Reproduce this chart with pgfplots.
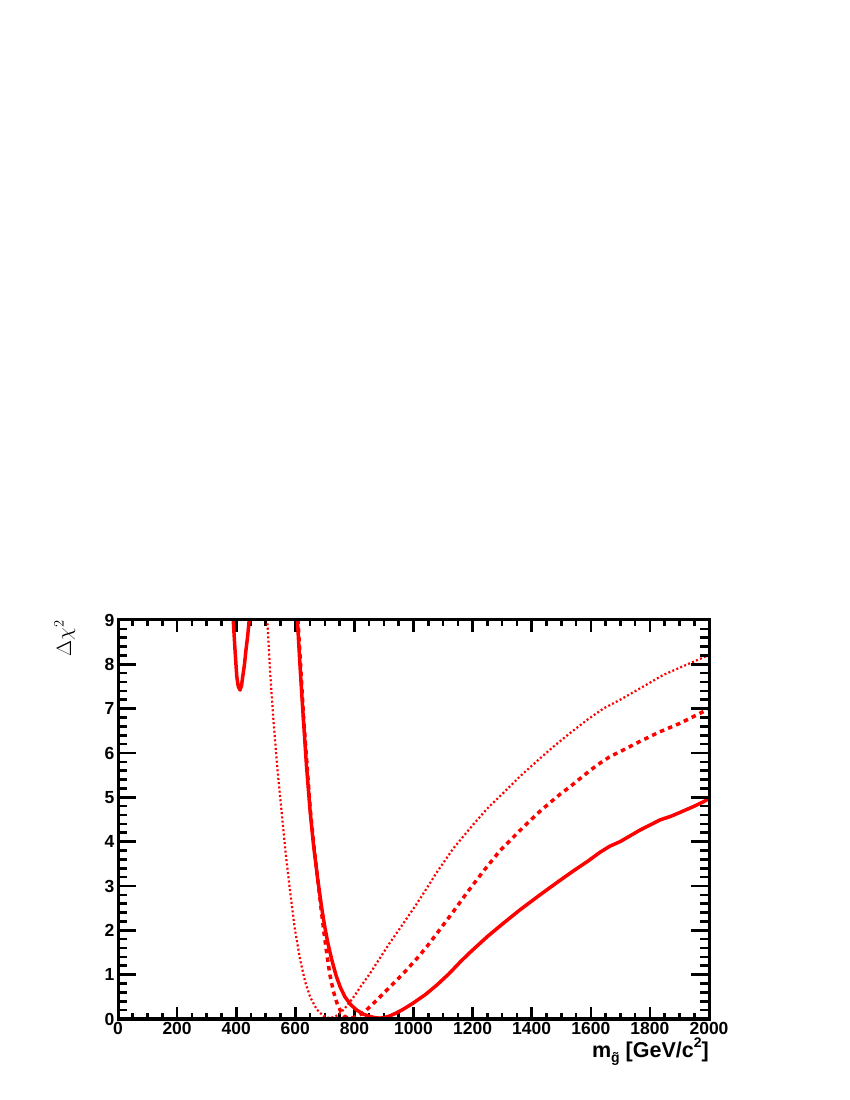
\documentclass[border=0pt]{standalone}
\usepackage{amsmath}
\usepackage{fontspec}
\setmainfont{Liberation Sans}
\usepackage{pgfplots}
\usepackage{pgfplotstable}
\pgfplotsset{compat=1.18}

% solid curve, small dip near 410
\pgfplotstableread{
x y
386 9.6
390 9.0
396 8.32
402 7.72
407 7.5
413 7.42
418 7.52
422 7.72
428 8.0
433 8.32
439 8.65
444 9.0
447 9.6
}\solidlow

% solid curve, main
\pgfplotstableread{
x y
602 9.6
607 9.0
617 7.85
627 6.8
638 5.7
650 4.7
662 3.9
675 3.2
689 2.52
700 2.07
710 1.72
724 1.32
738 0.98
752 0.72
768 0.5
788 0.32
808 0.2
830 0.11
850 0.06
870 0.03
885 0.02
900 0.03
920 0.07
940 0.13
960 0.2
980 0.28
999 0.36
1040 0.55
1078 0.76
1120 1.02
1160 1.3
1191 1.5
1250 1.86
1304 2.16
1360 2.46
1428 2.8
1490 3.1
1541 3.34
1590 3.56
1631 3.76
1665 3.9
1699 4.0
1766 4.26
1834 4.49
1870 4.57
1902 4.66
1950 4.8
1981 4.9
2000 4.97
}\solidmain

\pgfplotstableread{
x y
605 9.6
609 9.0
619 7.85
628 6.8
640 5.7
651 4.7
663 3.9
675 3.2
687 2.5
697 1.95
707 1.45
717 1.0
729 0.62
741 0.36
753 0.18
765 0.07
778 0.02
790 0.02
805 0.05
820 0.1
837 0.18
853 0.28
881 0.46
905 0.62
932 0.80
970 1.06
1011 1.36
1045 1.63
1078 1.92
1130 2.38
1180 2.84
1236 3.33
1293 3.8
1360 4.25
1417 4.62
1462 4.88
1496 5.07
1530 5.24
1563 5.42
1600 5.62
1631 5.77
1665 5.92
1699 6.03
1766 6.26
1834 6.48
1902 6.67
1950 6.83
1986 6.95
2000 7.0
}\dashed

\pgfplotstableread{
x y
500 9.6
505 9.0
515 7.8
526 6.74
540 5.6
554 4.65
568 3.7
582 2.9
598 2.05
616 1.35
633 0.85
650 0.5
672 0.22
695 0.07
715 0.02
735 0.05
755 0.15
775 0.3
800 0.52
820 0.72
853 1.03
887 1.38
920 1.72
965 2.15
1011 2.6
1045 2.95
1078 3.3
1135 3.85
1200 4.37
1250 4.75
1304 5.1
1360 5.47
1420 5.83
1473 6.14
1530 6.45
1586 6.74
1642 7.0
1699 7.2
1770 7.47
1845 7.76
1920 7.98
1986 8.17
2000 8.2
}\dotted

\begin{document}
\begin{tikzpicture}
\path[use as bounding box] (0,0) rectangle (850pt,1100pt);
\pgfplotsset{rootframe/.style={
  width=591pt, height=399pt, scale only axis,
  at={(118pt,81pt)}, anchor=south west,
  xmin=0, xmax=2000, ymin=0, ymax=9,
  axis line style={line width=3pt},
  tick style={line width=2.6pt, black},
  tick align=inside,
  ticklabel style={font=\fontsize{17.5}{20}\selectfont\bfseries},
  /pgf/number format/assume math mode=true,
  /pgf/number format/1000 sep={},
}}
% x ticks and curves
\begin{axis}[rootframe,
  xtick={0,200,...,2000}, minor x tick num=3,
  major tick length=12pt, minor tick length=6pt,
  ytick=\empty,
  xlabel={m\raisebox{-0.45ex}{\fontsize{14}{14}\selectfont\ooalign{g\cr\hidewidth ˜\hidewidth\cr}} [GeV/c\raisebox{0.8ex}{\fontsize{14}{14}\selectfont 2}]},
  xlabel style={at={(axis description cs:1,0)}, anchor=north east,
    yshift=-19pt, inner sep=0pt, font=\fontsize{21.5}{24}\selectfont\bfseries},
  ylabel={$\Delta\chi^{2}$},
  ylabel style={at={(axis description cs:-0.09,1)}, anchor=east,
    inner sep=0pt, font=\fontsize{22}{24}\selectfont},
]
\addplot[red, line width=3.5pt, line join=round] table {\solidlow};
\addplot[red, line width=3.5pt, line join=round] table {\solidmain};
\addplot[red, line width=3.5pt, dash pattern=on 4.5pt off 4.2pt] table {\dashed};
\addplot[red, line width=2.2pt, dash pattern=on 2pt off 2.3pt] table {\dotted};
\end{axis}
% y ticks (longer, as on a ROOT frame)
\begin{axis}[rootframe,
  xtick=\empty,
  ytick={0,1,...,9}, minor y tick num=4,
  major tick length=18pt, minor tick length=9pt,
]
\end{axis}
\end{tikzpicture}
\end{document}
